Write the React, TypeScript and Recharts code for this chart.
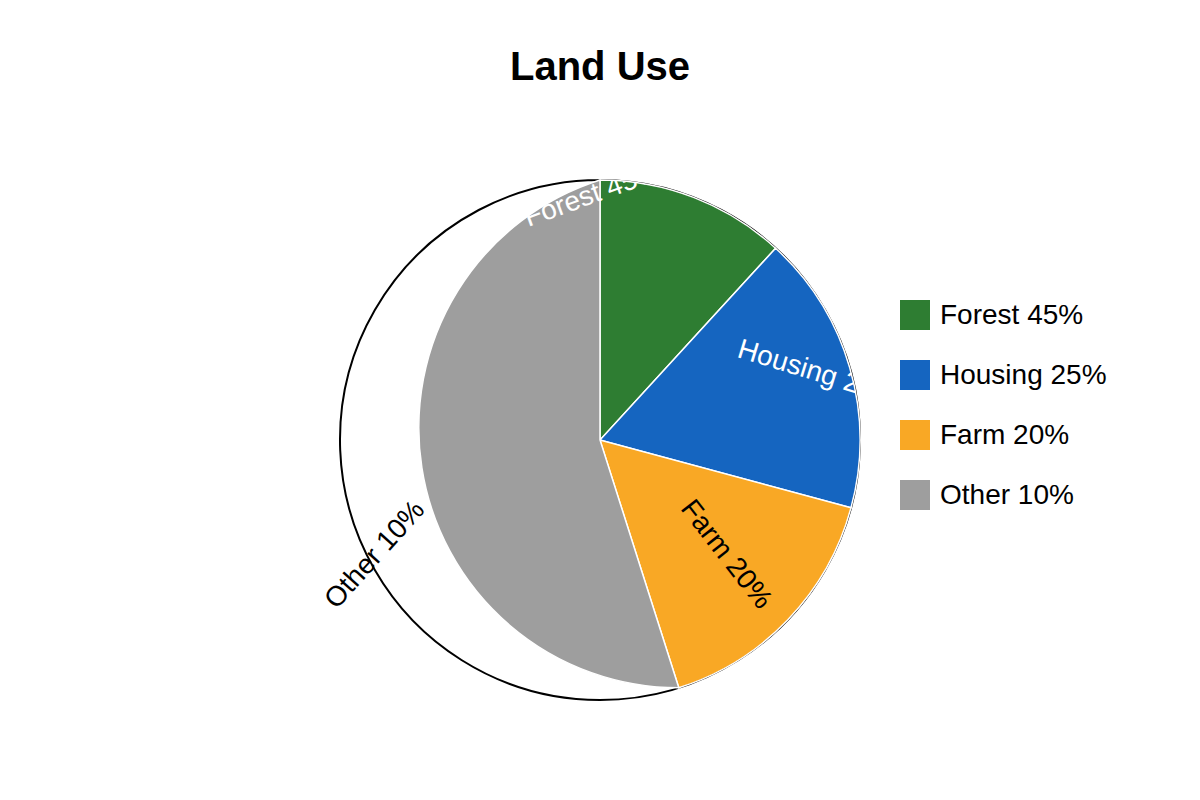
import React from "react";
import { PieChart, Pie, Cell, Sector, Legend } from "recharts";

const categories = ["Forest 45%", "Housing 25%", "Farm 20%", "Other 10%"];
const shares = [11.8, 17.4, 15.9, 54.9];
const colors = ["#2E7D32", "#1565C0", "#F9A825", "#9E9E9E"];

const data = categories.map((name, i) => ({ name, value: shares[i] }));
const outline = [{ name: "outline", value: 1 }];

const FONT = "'Liberation Sans', Arial, sans-serif";
const RAD = Math.PI / 180;

// label placement: angle clockwise from 12 o'clock, share of radius, text rotation
const labelLayout = [
  { angle: -1.8, r: 0.948, rotate: -20, color: "#fff", clip: true },
  { angle: 72.7, r: 0.88, rotate: 17, color: "#fff", clip: true },
  { angle: 131.9, r: 0.656, rotate: 52, color: "#000", clip: true },
  { angle: 243.2, r: 0.973, rotate: -48, color: "#000", clip: false },
];

const renderLabel = (props: any) => {
  const { cx, cy, outerRadius, index } = props;
  const l = labelLayout[index];
  const x = cx + outerRadius * l.r * Math.sin(l.angle * RAD);
  const y = cy - outerRadius * l.r * Math.cos(l.angle * RAD);
  const id = `land-clip-${index}`;
  return (
    <g key={id} clipPath={l.clip ? `url(#${id})` : undefined}>
      {l.clip && (
        <defs>
          <clipPath id={id}>
            <circle cx={cx} cy={cy} r={outerRadius} />
          </clipPath>
        </defs>
      )}
      <text
        x={x}
        y={y}
        fill={l.color}
        fontSize={28}
        fontFamily={FONT}
        textAnchor="middle"
        dominantBaseline="central"
        transform={`rotate(${l.rotate} ${x} ${y})`}
      >
        {categories[index]}
      </text>
    </g>
  );
};

// the "Other" slice is drawn with the small-arc flag, like the reference
const renderSlice = (props: any) => {
  const name = props.name ?? props.payload?.name;
  if (name !== categories[3]) return <Sector {...props} />;
  const { cx, cy, outerRadius: r, startAngle, endAngle, fill } = props;
  const sx = cx + r * Math.cos(-startAngle * RAD);
  const sy = cy + r * Math.sin(-startAngle * RAD);
  const ex = cx + r * Math.cos(-endAngle * RAD);
  const ey = cy + r * Math.sin(-endAngle * RAD);
  const sweep = startAngle > endAngle ? 1 : 0;
  const d = `M ${sx},${sy} A ${r},${r} 0 0 ${sweep} ${ex},${ey} L ${cx},${cy} Z`;
  return <path d={d} fill={fill} stroke="#fff" strokeWidth={1.5} />;
};

const renderLegend = () => (
  <div style={{ fontFamily: FONT }}>
    {categories.map((c, i) => (
      <div
        key={c}
        style={{ display: "flex", alignItems: "center", height: 30, marginBottom: 30 }}
      >
        <span style={{ width: 30, height: 30, background: colors[i], marginRight: 10 }} />
        <span style={{ fontSize: 28, color: "#000", whiteSpace: "nowrap" }}>{c}</span>
      </div>
    ))}
  </div>
);

export default function App() {
  return (
    <div style={{ position: "relative", width: 1200, height: 800, background: "#fff" }}>
      <style>{"body{margin:0}"}</style>
      <div
        style={{
          position: "absolute",
          top: 43,
          left: 0,
          width: 1200,
          textAlign: "center",
          fontFamily: FONT,
          fontWeight: "bold",
          fontSize: 40,
          lineHeight: "46px",
          color: "#000",
        }}
      >
        Land Use
      </div>
      <PieChart width={1200} height={800} margin={{ top: 0, right: 0, bottom: 0, left: 0 }}>
        <Pie
          data={outline}
          dataKey="value"
          cx={600}
          cy={440}
          outerRadius={260}
          startAngle={90}
          endAngle={-270}
          fill="none"
          stroke="#000"
          strokeWidth={2}
          isAnimationActive={false}
        />
        <Pie
          data={data}
          dataKey="value"
          nameKey="name"
          cx={600}
          cy={440}
          outerRadius={260}
          startAngle={90}
          endAngle={-270}
          stroke="#fff"
          strokeWidth={1.5}
          shape={renderSlice}
          label={renderLabel}
          labelLine={false}
          isAnimationActive={false}
        >
          {data.map((d, i) => (
            <Cell key={d.name} fill={colors[i]} />
          ))}
        </Pie>
        <Legend
          layout="vertical"
          align="right"
          verticalAlign="middle"
          content={renderLegend}
          wrapperStyle={{ left: 900, top: 300, right: "auto", width: 260 }}
        />
      </PieChart>
    </div>
  );
}
